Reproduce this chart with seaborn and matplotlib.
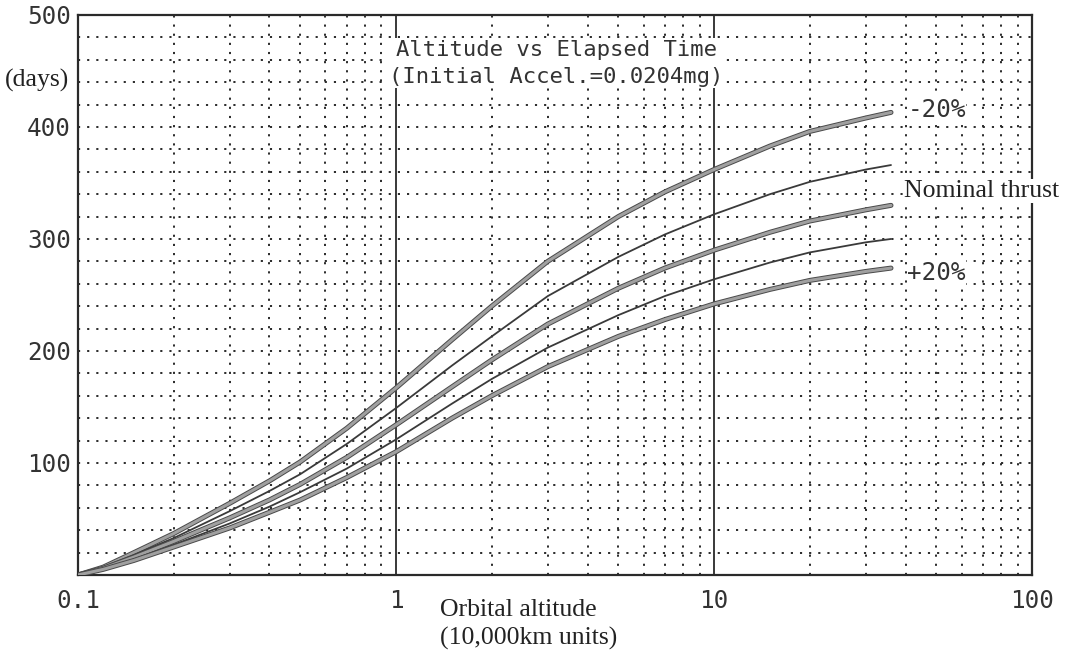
import numpy as np
import pandas as pd
import matplotlib
matplotlib.use("Agg")
import matplotlib.pyplot as plt
import matplotlib.patheffects as pe
from matplotlib.ticker import FixedLocator, NullFormatter
import seaborn as sns

# Orbital altitude (10,000 km units)
altitude = [0.1, 0.12, 0.15, 0.2, 0.3, 0.4, 0.5, 0.7, 1, 1.5, 2, 3, 5, 7, 10, 15, 20, 30, 36]

# Elapsed time (days) for each thrust level
days_minus20 = [0, 7, 20, 37, 64, 84, 101, 131, 167, 210, 240, 280, 320, 342, 362, 383, 396, 408, 413]
days_minus10 = [0, 7, 18, 33, 57, 75, 90, 117, 149, 187, 213, 249, 284, 304, 322, 340, 351, 362, 366]
days_nominal = [0, 6, 16, 30, 51, 67, 81, 105, 134, 168, 192, 224, 256, 274, 290, 306, 316, 326, 330]
days_plus10 = [0, 5, 14, 27, 46, 61, 74, 95, 121, 153, 175, 203, 232, 249, 264, 279, 288, 297, 300]
days_plus20 = [0, 5, 13, 25, 42, 56, 67, 87, 110, 140, 160, 186, 213, 228, 242, 255, 263, 271, 274]

series = {
    "-20%": days_minus20,
    "-10%": days_minus10,
    "Nominal": days_nominal,
    "+10%": days_plus10,
    "+20%": days_plus20,
}

x_tick_values = [0.1, 1, 10, 100]
x_tick_labels = ["0.1", "1", "10", "100"]
y_tick_values = [100, 200, 300, 400, 500]
y_tick_labels = ["100", "200", "300", "400", "500"]

sns.set_theme(style="white")
plt.rcParams["font.family"] = ["DejaVu Sans Mono", "DejaVu Sans"]

fig = plt.figure(figsize=(10.74, 6.5), dpi=100, facecolor="white")
ax = fig.add_axes([0.0726, 0.1154, 0.8884, 0.8616])
ax.set_facecolor("white")

ink = "#2a2a2a"
dots = (0, (1.1, 3.6))

# Grid: dotted minor lines, solid decade lines
ax.set_xscale("log")
ax.set_xlim(0.1, 100)
ax.set_ylim(0, 500)
ax.xaxis.set_major_locator(FixedLocator(x_tick_values))
ax.set_xticklabels(x_tick_labels)
minor_x = [m * d for d in (0.1, 1, 10) for m in range(2, 10)]
ax.xaxis.set_minor_locator(FixedLocator(minor_x))
ax.xaxis.set_minor_formatter(NullFormatter())
ax.yaxis.set_major_locator(FixedLocator(y_tick_values))
ax.set_yticklabels(y_tick_labels)
ax.yaxis.set_minor_locator(FixedLocator(list(range(20, 500, 20))))

ax.grid(False)
ax.grid(which="minor", axis="x", color=ink, linestyle=dots, linewidth=1.4)
ax.grid(which="major", axis="x", color=ink, linestyle="-", linewidth=1.3)
ax.grid(which="both", axis="y", color=ink, linestyle=dots, linewidth=1.4)
ax.set_axisbelow(True)

ax.tick_params(axis="x", which="both", length=0, pad=10)
ax.tick_params(axis="y", which="both", length=0, pad=5)
for lab in ax.get_xticklabels() + ax.get_yticklabels():
    lab.set_fontsize(17.5)
    lab.set_color("#333333")
    lab.set_family(["DejaVu Sans Mono"])

for sp in ax.spines.values():
    sp.set_visible(True)
    sp.set_color(ink)
    sp.set_linewidth(1.6)

# Curves: alternating heavy grey traces and thin dark traces
frames = []
for name, vals in series.items():
    frames.append(pd.DataFrame({"altitude": altitude, "days": vals, "case": name}))
df = pd.concat(frames, ignore_index=True)

styles = {
    "-20%": dict(color="#a0a0a0", lw=2.2, heavy=True),
    "-10%": dict(color="#3a3a3a", lw=1.3, heavy=False),
    "Nominal": dict(color="#a0a0a0", lw=2.2, heavy=True),
    "+10%": dict(color="#3a3a3a", lw=1.3, heavy=False),
    "+20%": dict(color="#a0a0a0", lw=2.2, heavy=True),
}

for name in series:
    st = styles[name]
    sub = df[df["case"] == name]
    before = len(ax.lines)
    sns.lineplot(data=sub, x="altitude", y="days", ax=ax, color=st["color"],
                 linewidth=st["lw"], sort=False, legend=False, zorder=3)
    line = ax.lines[before]
    line.set_solid_joinstyle("round")
    if st["heavy"]:
        line.set_path_effects([pe.Stroke(linewidth=3.6, foreground="#4a4a4a"), pe.Normal()])

ax.set_xlabel("")
ax.set_ylabel("")

# Titles and annotations
ax.text(3.2, 457, "Altitude vs Elapsed Time\n(Initial Accel.=0.0204mg)",
        ha="center", va="center", fontsize=16, color="#333333", linespacing=1.45,
        family=["DejaVu Sans Mono"], zorder=4,
        bbox=dict(facecolor="white", edgecolor="none", pad=1))

ax.text(40.5, 415, "-20%", ha="left", va="center", fontsize=17.5, color="#333333",
        family=["DejaVu Sans Mono"], zorder=4,
        bbox=dict(facecolor="white", edgecolor="none", pad=0.5))
ax.text(40.5, 270, "+20%", ha="left", va="center", fontsize=17.5, color="#333333",
        family=["DejaVu Sans Mono"], zorder=4,
        bbox=dict(facecolor="white", edgecolor="none", pad=0.5))
ax.text(39.5, 343, "Nominal thrust", ha="left", va="center", fontsize=18.5, color="#222222",
        family=["Liberation Serif"], zorder=4,
        bbox=dict(facecolor="white", edgecolor="none", pad=0.5))

fig.text(37 / 1074, 1 - 80 / 650, "(days)", ha="center", va="center", fontsize=18.5,
         color="#222222", family=["Liberation Serif"])
fig.text(440 / 1074, 1 - 610 / 650, "Orbital altitude", ha="left", va="center",
         fontsize=18.5, color="#222222", family=["Liberation Serif"])
fig.text(440 / 1074, 1 - 638 / 650, "(10,000km units)", ha="left", va="center",
         fontsize=18.5, color="#222222", family=["Liberation Serif"])

fig.savefig("out.png", dpi=100, facecolor="white")
